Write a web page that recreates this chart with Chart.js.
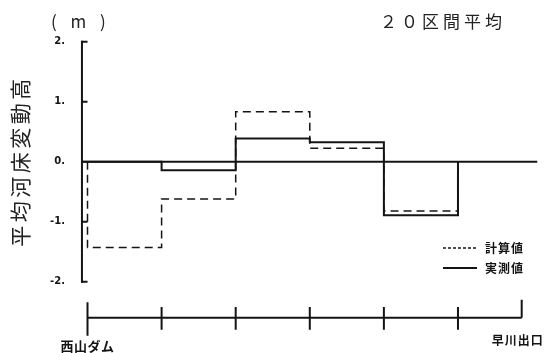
<!DOCTYPE html>
<html>
<head>
<meta charset="utf-8">
<script src="https://cdn.jsdelivr.net/npm/chart.js@4"></script>
<style>
  html, body { margin: 0; padding: 0; background: #fff; }
  #wrap { width: 550px; height: 353px; }
</style>
</head>
<body>
<div id="wrap"><canvas id="c"></canvas></div>
<script>
// Section boundaries along the river (section units)
const sectionEdges = [0, 1, 2, 3, 4, 5];
const riverEnd = 5.86;
// Mean bed-level change of each section (m)
const calcValues = [-1.43, -0.62, 0.835, 0.225, -0.82];
const obsValues  = [0, -0.14, 0.39, 0.325, -0.89];
const yTickValues = [2, 1, 0, -1, -2];
const stationLabels = ['西山ダム', '早川出口'];
const seriesNames = ['計算値', '実測値'];
const unitLabel = '( m )';
const titleText = '２０区間平均';
const yTitle = '平均河床変動高';

// axis placement (data units)
const axisX = -0.075;
const baselineEnd = 6.07;
const riverY = -2.6;

const INK = '#141414';
const FONT = '"Noto Sans CJK JP", "Noto Sans", sans-serif';

function stepPoints(vals) {
  const pts = [{ x: sectionEdges[0], y: 0 }];
  vals.forEach((v, i) => {
    pts.push({ x: sectionEdges[i], y: v });
    pts.push({ x: sectionEdges[i + 1], y: v });
  });
  pts.push({ x: sectionEdges[vals.length], y: 0 });
  return pts;
}

// vertical axis line between the outer ticks
function yAxisLine() {
  return [{ x: axisX, y: yTickValues[0] }, { x: axisX, y: yTickValues[yTickValues.length - 1] }];
}
// short inward tick marks, separated by gaps
function yAxisTicks() {
  const t = 0.075;
  const pts = [];
  yTickValues.forEach(v => {
    pts.push({ x: axisX - 0.01, y: v }, { x: axisX + t, y: v }, { x: axisX + t, y: null });
  });
  return pts;
}

// river profile axis with station ticks
function riverAxisPoints() {
  const pts = [{ x: sectionEdges[0], y: riverY }, { x: riverEnd, y: riverY }, { x: riverEnd, y: null }];
  sectionEdges.forEach((e, i) => {
    const top = i === 0 ? riverY + 0.26 : riverY + 0.18;
    const bot = i === 0 ? riverY - 0.30 : riverY - 0.20;
    pts.push({ x: e, y: top }, { x: e, y: bot }, { x: e, y: null });
  });
  pts.push({ x: riverEnd, y: riverY + 0.3 }, { x: riverEnd, y: riverY });
  return pts;
}

const lineBase = { showLine: true, pointRadius: 0, borderColor: INK, fill: false, tension: 0,
  borderCapStyle: 'butt', borderJoinStyle: 'miter', spanGaps: false, clip: false };

const textPlugin = {
  id: 'chartText',
  afterDraw(chart) {
    const { ctx, scales: { x, y } } = chart;
    ctx.save();
    ctx.fillStyle = INK;
    ctx.textBaseline = 'middle';

    // tick labels
    ctx.font = 'bold 10px "DejaVu Sans", sans-serif';
    ctx.textAlign = 'right';
    yTickValues.forEach(v => {
      ctx.fillText(v + '.', x.getPixelForValue(axisX) - 17, y.getPixelForValue(v));
    });

    // unit and heading
    ctx.fillStyle = '#222';
    ctx.font = '400 17px ' + FONT;
    ctx.letterSpacing = '5px';
    ctx.textAlign = 'left';
    ctx.fillText(unitLabel, 51, 22);
    ctx.letterSpacing = '4px';
    ctx.fillText(titleText, 380, 22);

    // vertical title
    ctx.save();
    ctx.translate(20, 163);
    ctx.rotate(-Math.PI / 2);
    ctx.textAlign = 'center';
    ctx.font = '400 21px ' + FONT;
    ctx.letterSpacing = '3.5px';
    ctx.fillText(yTitle, 2, 0);
    ctx.restore();

    // station names
    ctx.letterSpacing = '0.5px';
    ctx.fillStyle = INK;
    ctx.font = 'bold 13px ' + FONT;
    ctx.textAlign = 'center';
    ctx.fillText(stationLabels[0], x.getPixelForValue(sectionEdges[0]), 346);
    ctx.letterSpacing = '1px';
    ctx.font = 'bold 12px ' + FONT;
    ctx.fillText(stationLabels[1], x.getPixelForValue(riverEnd) - 4, 340);

    // legend
    const lx = 443, lw = 34;
    const rows = [{ name: seriesNames[0], dash: [3, 2], w: 1.4, yy: 248 },
                  { name: seriesNames[1], dash: [], w: 2, yy: 268 }];
    rows.forEach(r => {
      ctx.beginPath();
      ctx.setLineDash(r.dash);
      ctx.lineWidth = r.w;
      ctx.strokeStyle = INK;
      ctx.moveTo(lx, r.yy);
      ctx.lineTo(lx + lw, r.yy);
      ctx.stroke();
      ctx.setLineDash([]);
      ctx.textAlign = 'left';
      ctx.letterSpacing = '1px';
      ctx.fillText(r.name, lx + 42, r.yy);
    });
    ctx.restore();
  }
};

new Chart(document.getElementById('c'), {
  type: 'scatter',
  data: {
    datasets: [
      Object.assign({}, lineBase, { label: seriesNames[1], data: stepPoints(obsValues), borderWidth: 2 }),
      Object.assign({}, lineBase, { label: seriesNames[0], data: stepPoints(calcValues), borderWidth: 1.5, borderDash: [8, 5] }),
      Object.assign({}, lineBase, { label: 'zero', data: [{ x: axisX, y: 0 }, { x: baselineEnd, y: 0 }], borderWidth: 2 }),
      Object.assign({}, lineBase, { label: 'yaxis', data: yAxisLine(), borderWidth: 2, borderCapStyle: 'square' }),
      Object.assign({}, lineBase, { label: 'yticks', data: yAxisTicks(), borderWidth: 2 }),
      Object.assign({}, lineBase, { label: 'river', data: riverAxisPoints(), borderWidth: 2 })
    ]
  },
  options: {
    responsive: true,
    maintainAspectRatio: false,
    animation: false,
    devicePixelRatio: 1,
    layout: { padding: 0 },
    plugins: { legend: { display: false }, tooltip: { enabled: false } },
    scales: {
      x: { type: 'linear', display: false, min: -1.181, max: 6.242 },
      y: { type: 'linear', display: false, min: -3.187, max: 2.697 }
    }
  },
  plugins: [textPlugin]
});
</script>
</body>
</html>
